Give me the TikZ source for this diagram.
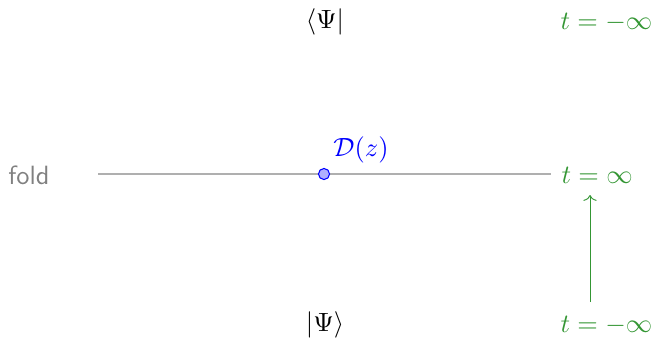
\documentclass[tikz,border=0pt]{standalone}
\usetikzlibrary{arrows.meta}
\definecolor{tgreen}{RGB}{52,150,52}
\definecolor{foldgray}{RGB}{128,128,128}
\definecolor{linegray}{RGB}{175,175,175}
\definecolor{dotfill}{RGB}{175,175,255}
\tikzset{
  tlabel/.style={text=tgreen, anchor=west, inner sep=0pt},
  statelabel/.style={inner sep=0pt},
  foldline/.style={draw=linegray, line width=0.4pt},
  timearrow/.style={draw=tgreen, line width=0.35pt, -{To[length=2.2pt,width=5pt]}},
  vertexdot/.style={circle, draw=blue, fill=dotfill, line width=0.4pt, minimum size=4.2pt, inner sep=0pt}
}
\begin{document}
\begin{tikzpicture}[x=0.3788pt, y=-0.3788pt]
\useasboundingbox (0,0) rectangle (653,337);
\node[statelabel] (bra) at (325,22) {$\langle\Psi|$};
\node[statelabel] (ket) at (325,325) {$|\Psi\rangle$};
\node[tlabel] (ttop) at (560,22) {$t=-\infty$};
\node[tlabel] (tmid) at (561,175) {$t=\infty$};
\node[tlabel] (tbot) at (560,325) {$t=-\infty$};
\node[text=foldgray, inner sep=0pt] (fold) at (29,175) {\sffamily fold};
\coordinate (lineL) at (98,174);
\coordinate (lineR) at (551,174);
\draw[foldline] (lineL) -- (lineR);
\node[vertexdot] (dot) at (324,174) {};
\node[text=blue, inner sep=0pt] (dlabel) at (361,150) {$\mathcal{D}(z)$};
\coordinate (arrS) at (590,302);
\coordinate (arrE) at (590,195);
\draw[timearrow] (arrS) -- (arrE);
\end{tikzpicture}
\end{document}
